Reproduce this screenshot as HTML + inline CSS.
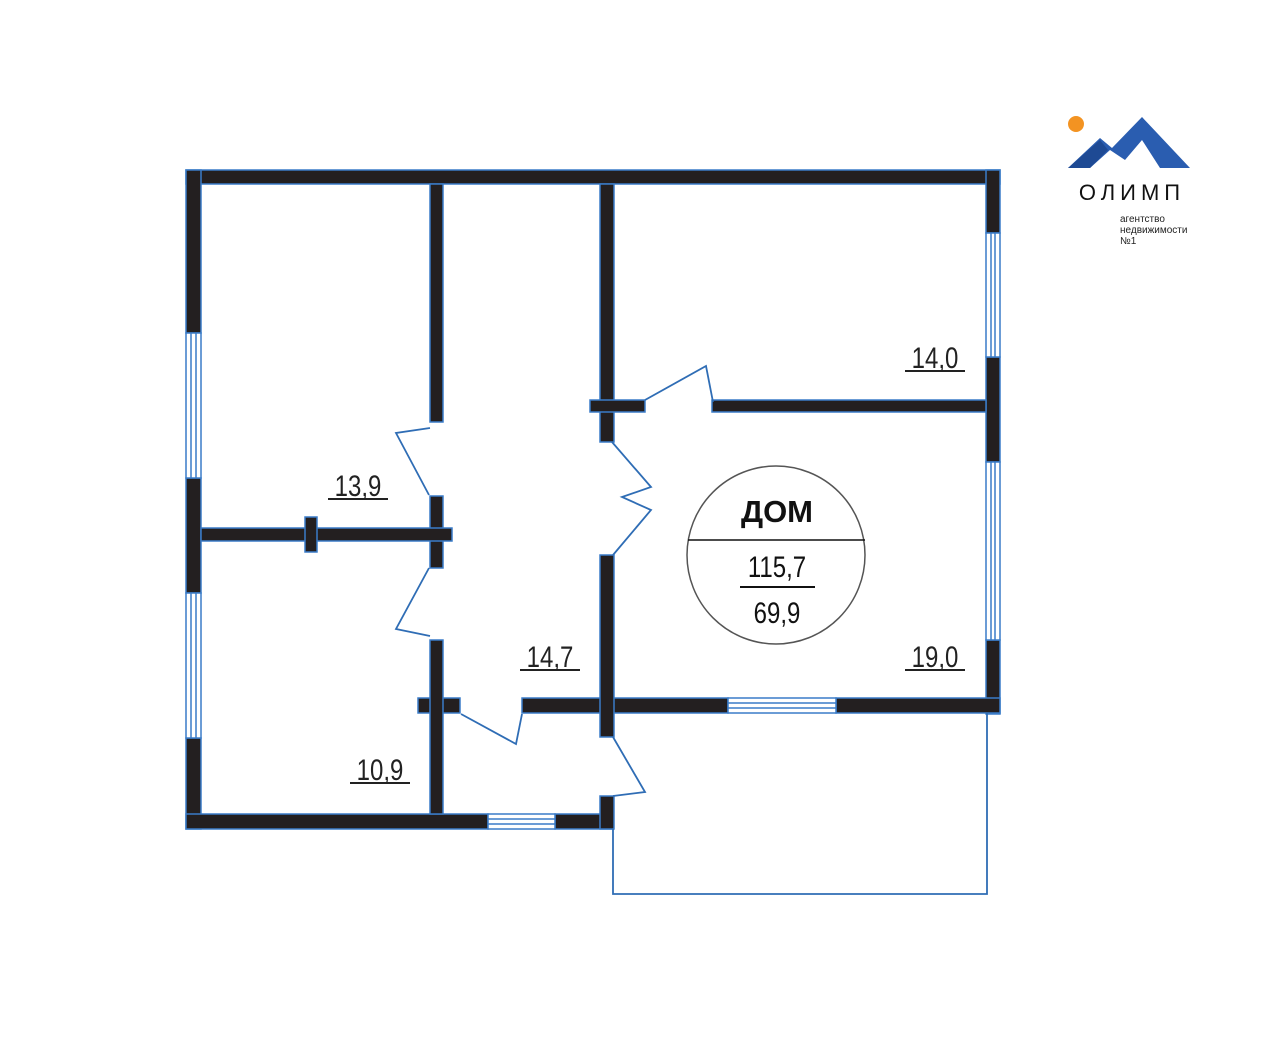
<!DOCTYPE html>
<html><head><meta charset="utf-8"><style>
html,body{margin:0;padding:0;background:#fff;}
svg{display:block;}
.l{font-family:"Liberation Sans",sans-serif;font-size:30px;fill:#222;}
</style></head><body>
<svg width="1280" height="1043" viewBox="0 0 1280 1043" xmlns="http://www.w3.org/2000/svg">
<rect width="1280" height="1043" fill="#fff"/>
<g fill="#231f20" stroke="#3a7cc8" stroke-width="1.5">
<!-- outer -->
<rect x="186" y="170" width="814" height="14"/>
<rect x="186" y="170" width="15" height="163"/>
<rect x="186" y="478" width="15" height="115"/>
<rect x="186" y="738" width="15" height="91"/>
<rect x="986" y="170" width="14" height="63"/>
<rect x="986" y="357" width="14" height="105"/>
<rect x="986" y="640" width="14" height="74"/>
<rect x="186" y="814" width="302" height="15"/>
<rect x="555" y="814" width="58" height="15"/>
<rect x="522" y="698" width="206" height="15"/>
<rect x="836" y="698" width="164" height="15"/>
<rect x="418" y="698" width="42" height="15"/>
<!-- inner verticals -->
<rect x="430" y="184" width="13" height="238"/>
<rect x="430" y="496" width="13" height="72"/>
<rect x="430" y="640" width="13" height="174"/>
<rect x="201" y="528" width="251" height="13"/>
<rect x="305" y="517" width="12" height="35"/>
<rect x="600" y="184" width="14" height="258"/>
<rect x="600" y="555" width="14" height="182"/>
<rect x="600" y="796" width="14" height="33"/>
<rect x="590" y="400" width="55" height="12"/>
<rect x="712" y="400" width="274" height="12"/>
</g>
<!-- windows -->
<g fill="#fff" stroke="#3a7cc8" stroke-width="1.5">
<rect x="186" y="333" width="15" height="145"/><line x1="191" y1="333" x2="191" y2="478"/><line x1="196" y1="333" x2="196" y2="478"/>
<rect x="186" y="593" width="15" height="145"/><line x1="191" y1="593" x2="191" y2="738"/><line x1="196" y1="593" x2="196" y2="738"/>
<rect x="986" y="233" width="14" height="124"/><line x1="991" y1="233" x2="991" y2="357"/><line x1="995" y1="233" x2="995" y2="357"/>
<rect x="986" y="462" width="14" height="178"/><line x1="991" y1="462" x2="991" y2="640"/><line x1="995" y1="462" x2="995" y2="640"/>
<rect x="728" y="698" width="108" height="15"/><line x1="728" y1="703" x2="836" y2="703"/><line x1="728" y1="708" x2="836" y2="708"/>
<rect x="488" y="814" width="67" height="15"/><line x1="488" y1="819" x2="555" y2="819"/><line x1="488" y1="824" x2="555" y2="824"/>
</g>
<!-- doors & porch -->
<g fill="none" stroke="#2f6db5" stroke-width="1.8">
<polyline points="430,428 396,433 429,495"/>
<polyline points="429,568 396,629 430,636"/>
<polyline points="612,442 651,487 622,497 651,510 613,555"/>
<polyline points="645,400 706,366 713,402"/>
<polyline points="461,714 516,744 522,714"/>
<polyline points="613,737 645,792 613,796"/>
<polyline points="613,829 613,894 987,894 987,713"/>
</g>
<!-- labels -->
<g class="l" text-anchor="middle">
<text x="935" y="368" transform="translate(935 0) scale(0.8 1) translate(-935 0)">14,0</text>
<text x="358" y="496" transform="translate(358 0) scale(0.8 1) translate(-358 0)">13,9</text>
<text x="550" y="667" transform="translate(550 0) scale(0.8 1) translate(-550 0)">14,7</text>
<text x="935" y="667" transform="translate(935 0) scale(0.8 1) translate(-935 0)">19,0</text>
<text x="380" y="780" transform="translate(380 0) scale(0.8 1) translate(-380 0)">10,9</text>
</g>
<g stroke="#222" stroke-width="2">
<line x1="905" y1="371" x2="965" y2="371"/>
<line x1="328" y1="499" x2="388" y2="499"/>
<line x1="520" y1="670" x2="580" y2="670"/>
<line x1="905" y1="670" x2="965" y2="670"/>
<line x1="350" y1="783" x2="410" y2="783"/>
</g>
<!-- circle -->
<circle cx="776" cy="555" r="89" fill="#fff" stroke="#555" stroke-width="1.5"/>
<line x1="688" y1="540" x2="865" y2="540" stroke="#111" stroke-width="1.5"/>
<text x="777" y="522" text-anchor="middle" font-family="Liberation Sans,sans-serif" font-weight="bold" font-size="31" fill="#111">ДОМ</text>
<text x="777" y="577" text-anchor="middle" font-family="Liberation Sans,sans-serif" font-size="30" fill="#111" transform="translate(777 0) scale(0.8 1) translate(-777 0)">115,7</text>
<line x1="740" y1="587" x2="815" y2="587" stroke="#111" stroke-width="2"/>
<text x="777" y="623" text-anchor="middle" font-family="Liberation Sans,sans-serif" font-size="30" fill="#111" transform="translate(777 0) scale(0.8 1) translate(-777 0)">69,9</text>
<!-- logo -->
<circle cx="1076" cy="124" r="8" fill="#f39322"/>
<polygon points="1068,168 1100,138 1112,148 1142,117 1190,168 1160,168 1142,140 1125,160 1110,150 1090,168" fill="#2a5db0"/>
<polygon points="1068,168 1100,140 1108,150 1090,168" fill="#1e4a94"/>
<text x="1132" y="200" text-anchor="middle" font-family="Liberation Sans,sans-serif" font-size="22" letter-spacing="5" fill="#111">ОЛИМП</text>
<g font-family="Liberation Sans,sans-serif" font-size="10" fill="#222">
<text x="1120" y="222">агентство</text>
<text x="1120" y="233">недвижимости</text>
<text x="1120" y="244">№1</text>
</g>
</svg>
</body></html>
